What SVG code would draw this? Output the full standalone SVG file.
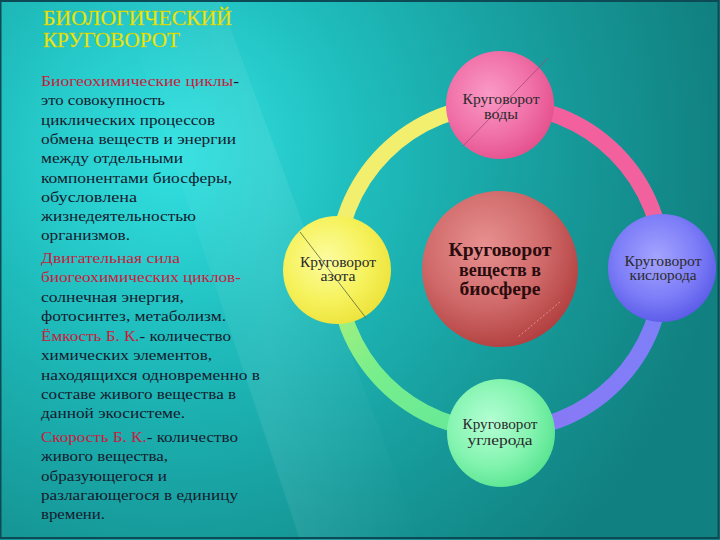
<svg xmlns="http://www.w3.org/2000/svg" width="720" height="540" viewBox="0 0 720 540">
<style>
.body{font-family:"Liberation Serif","DejaVu Serif",serif;font-size:15px;fill:#141a2e}
.r{fill:#c8203c}
.title{font-family:"Liberation Serif","DejaVu Serif",serif;font-size:21px;fill:#ecec12;stroke:#c8c800;stroke-width:0.3}
.lbl{font-family:"Liberation Serif","DejaVu Serif",serif;font-size:14px;fill:#2a2a2a;text-anchor:middle}
.big{font-family:"Liberation Serif","DejaVu Serif",serif;font-size:18px;font-weight:bold;fill:#2a0c0e;text-anchor:middle}
.arc{fill:none;stroke-width:16}
</style>
<defs>
<radialGradient id="bg" cx="170" cy="150" r="560" gradientUnits="userSpaceOnUse">
<stop offset="0" stop-color="#34e2e2"/>
<stop offset="0.35" stop-color="#1fbcbc"/>
<stop offset="0.7" stop-color="#179a9a"/>
<stop offset="1" stop-color="#118080"/>
</radialGradient>
<linearGradient id="stripe" x1="0" y1="0" x2="1" y2="0">
<stop offset="0" stop-color="#ffffff" stop-opacity="0"/>
<stop offset="0.5" stop-color="#ffffff" stop-opacity="0.08"/>
<stop offset="1" stop-color="#ffffff" stop-opacity="0"/>
</linearGradient>
<radialGradient id="gPink" cx="0.4" cy="0.4" r="0.65">
<stop offset="0" stop-color="#fa9ac6"/>
<stop offset="0.6" stop-color="#f070a8"/>
<stop offset="1" stop-color="#e4508c"/>
</radialGradient>
<radialGradient id="gYellow" cx="0.4" cy="0.4" r="0.65">
<stop offset="0" stop-color="#fcfca0"/>
<stop offset="0.6" stop-color="#f6f25c"/>
<stop offset="1" stop-color="#ece23a"/>
</radialGradient>
<radialGradient id="gBlue" cx="0.45" cy="0.4" r="0.65">
<stop offset="0" stop-color="#a4a4ff"/>
<stop offset="0.6" stop-color="#7c7cf8"/>
<stop offset="1" stop-color="#5656e6"/>
</radialGradient>
<radialGradient id="gGreen" cx="0.4" cy="0.4" r="0.65">
<stop offset="0" stop-color="#b4ffd4"/>
<stop offset="0.6" stop-color="#84f4b0"/>
<stop offset="1" stop-color="#58e490"/>
</radialGradient>
<radialGradient id="gRed" cx="0.4" cy="0.35" r="0.7">
<stop offset="0" stop-color="#e89090"/>
<stop offset="0.55" stop-color="#d06a6a"/>
<stop offset="1" stop-color="#b03c3c"/>
</radialGradient>
<linearGradient id="aGreen" x1="337" y1="300" x2="480" y2="430" gradientUnits="userSpaceOnUse">
<stop offset="0" stop-color="#a8f07c"/>
<stop offset="0.4" stop-color="#78ee8c"/>
<stop offset="1" stop-color="#64e89a"/>
</linearGradient>
<linearGradient id="aViolet" x1="520" y1="431" x2="663" y2="290" gradientUnits="userSpaceOnUse">
<stop offset="0" stop-color="#8a78f6"/>
<stop offset="1" stop-color="#7c80f8"/>
</linearGradient>
<linearGradient id="aPink" x1="520" y1="105" x2="663" y2="250" gradientUnits="userSpaceOnUse">
<stop offset="0" stop-color="#f2609e"/>
<stop offset="1" stop-color="#f2629e"/>
</linearGradient>
</defs>
<g id="background">
<rect x="0" y="0" width="720" height="540" fill="url(#bg)"/>
<polygon points="120,0 220,0 420,540 300,540" fill="url(#stripe)"/>
<rect x="0.5" y="1" width="718" height="537" fill="none" stroke="#0c4a56" stroke-width="2"/>
</g>
<g id="title">
<text class="title" x="43" y="25" textLength="189" lengthAdjust="spacingAndGlyphs">БИОЛОГИЧЕСКИЙ</text>
<text class="title" x="43" y="47" textLength="137" lengthAdjust="spacingAndGlyphs">КРУГОВОРОТ</text>
</g>
<g id="description" class="body">
<text x="41" y="86" textLength="198" lengthAdjust="spacingAndGlyphs"><tspan class="r">Биогеохимические циклы</tspan>-</text>
<text x="41" y="105.3" textLength="124" lengthAdjust="spacingAndGlyphs">это совокупность</text>
<text x="41" y="124.6" textLength="174" lengthAdjust="spacingAndGlyphs">циклических процессов</text>
<text x="41" y="143.9" textLength="195" lengthAdjust="spacingAndGlyphs">обмена веществ и энергии</text>
<text x="41" y="163.2" textLength="142" lengthAdjust="spacingAndGlyphs">между отдельными</text>
<text x="41" y="182.5" textLength="191" lengthAdjust="spacingAndGlyphs">компонентами биосферы,</text>
<text x="41" y="201.8" textLength="96" lengthAdjust="spacingAndGlyphs">обусловлена</text>
<text x="41" y="221.1" textLength="155" lengthAdjust="spacingAndGlyphs">жизнедеятельностью</text>
<text x="41" y="240.4" textLength="89" lengthAdjust="spacingAndGlyphs">организмов.</text>
<text x="41" y="263" textLength="139" lengthAdjust="spacingAndGlyphs" class="r">Двигательная сила</text>
<text x="41" y="282.3" textLength="200" lengthAdjust="spacingAndGlyphs" class="r">биогеохимических циклов-</text>
<text x="41" y="301.6" textLength="143" lengthAdjust="spacingAndGlyphs">солнечная энергия,</text>
<text x="41" y="320.9" textLength="185" lengthAdjust="spacingAndGlyphs">фотосинтез, метаболизм.</text>
<text x="41" y="341" textLength="190" lengthAdjust="spacingAndGlyphs"><tspan class="r">Ёмкость Б. К.</tspan>- количество</text>
<text x="41" y="360.3" textLength="171" lengthAdjust="spacingAndGlyphs">химических элементов,</text>
<text x="41" y="379.6" textLength="219" lengthAdjust="spacingAndGlyphs">находящихся одновременно в</text>
<text x="41" y="398.9" textLength="195" lengthAdjust="spacingAndGlyphs">составе живого вещества в</text>
<text x="41" y="418.2" textLength="144" lengthAdjust="spacingAndGlyphs">данной экосистеме.</text>
<text x="41" y="442" textLength="197" lengthAdjust="spacingAndGlyphs"><tspan class="r">Скорость Б. К.</tspan>- количество</text>
<text x="41" y="461.3" textLength="127" lengthAdjust="spacingAndGlyphs">живого вещества,</text>
<text x="41" y="480.6" textLength="126" lengthAdjust="spacingAndGlyphs">образующегося и</text>
<text x="41" y="499.9" textLength="197" lengthAdjust="spacingAndGlyphs">разлагающегося в единицу</text>
<text x="41" y="519.2" textLength="64" lengthAdjust="spacingAndGlyphs">времени.</text>
</g>
<g id="connectors">
<path class="arc" d="M 337 268 A 163 163 0 0 1 500 105" stroke="#f2ee6e"/>
<path class="arc" d="M 500 105 A 163 163 0 0 1 663 268" stroke="url(#aPink)"/>
<path class="arc" d="M 663 268 A 163 163 0 0 1 500 431" stroke="url(#aViolet)"/>
<path class="arc" d="M 500 431 A 163 163 0 0 1 337 268" stroke="url(#aGreen)"/>
</g>
<g id="node-center">
<circle cx="500" cy="269" r="78" fill="url(#gRed)"/>
<line x1="560" y1="302" x2="518" y2="337" stroke="#f0c0c0" stroke-width="1" stroke-dasharray="2 2" opacity="0.6"/>
<text class="big" x="500" y="256" textLength="103" lengthAdjust="spacingAndGlyphs">Круговорот</text>
<text class="big" x="500" y="275.5" textLength="82" lengthAdjust="spacingAndGlyphs">веществ в</text>
<text class="big" x="500" y="295" textLength="81" lengthAdjust="spacingAndGlyphs">биосфере</text>
</g>
<g id="node-water">
<circle cx="500" cy="105" r="54" fill="url(#gPink)"/>
<line x1="548" y1="58" x2="463" y2="146" stroke="#a84878" stroke-width="0.8"/>
<text class="lbl" x="501" y="104" textLength="77" lengthAdjust="spacingAndGlyphs">Круговорот</text>
<text class="lbl" x="501" y="119" textLength="34" lengthAdjust="spacingAndGlyphs">воды</text>
</g>
<g id="node-nitrogen">
<circle cx="337" cy="270" r="54" fill="url(#gYellow)"/>
<line x1="300" y1="232" x2="366" y2="318" stroke="#5a6a3a" stroke-width="0.8"/>
<text class="lbl" x="338" y="267" textLength="76" lengthAdjust="spacingAndGlyphs">Круговорот</text>
<text class="lbl" x="338" y="281" textLength="35" lengthAdjust="spacingAndGlyphs">азота</text>
</g>
<g id="node-oxygen">
<circle cx="662" cy="268" r="54" fill="url(#gBlue)"/>
<text class="lbl" x="663" y="266" textLength="77" lengthAdjust="spacingAndGlyphs">Круговорот</text>
<text class="lbl" x="663" y="280" textLength="67" lengthAdjust="spacingAndGlyphs">кислорода</text>
</g>
<g id="node-carbon">
<circle cx="501" cy="433" r="54" fill="url(#gGreen)"/>
<text class="lbl" x="500" y="429" textLength="75" lengthAdjust="spacingAndGlyphs">Круговорот</text>
<text class="lbl" x="500" y="445" textLength="65" lengthAdjust="spacingAndGlyphs">углерода</text>
</g>
</svg>
